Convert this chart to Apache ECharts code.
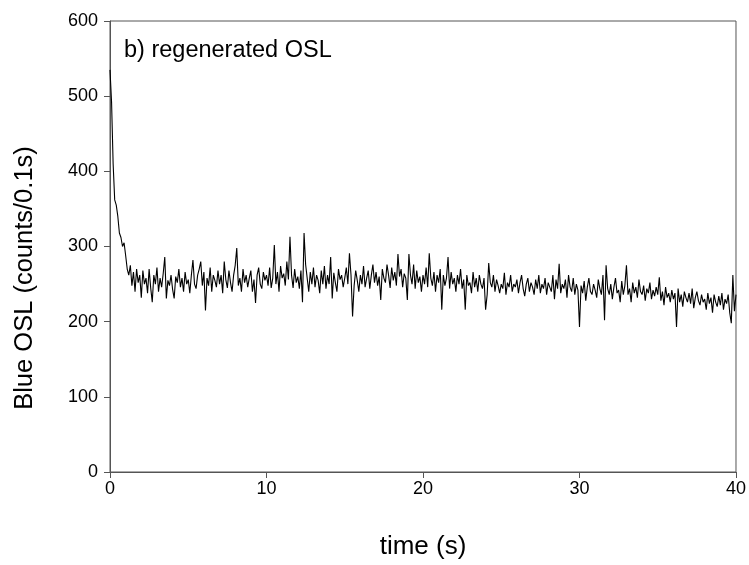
<!DOCTYPE html>
<html>
<head>
<meta charset="utf-8">
<script src="https://cdn.jsdelivr.net/npm/echarts@6/dist/echarts.min.js"></script>
<style>
  html, body { margin: 0; padding: 0; background: #fff; }
  #chart { width: 749px; height: 565px; }
</style>
</head>
<body>
<div id="chart"></div>
<script>
// OSL decay, one reading every 0.1 s
const step = 0.1;
const oslValues = [
  535, 492, 410, 362, 355, 340, 318, 312, 300, 305,
  288, 270, 262, 275, 248, 266, 240, 270, 252, 262,
  232, 268, 250, 258, 238, 270, 245, 226, 262, 250,
  272, 240, 258, 246, 264, 286, 231, 255, 248, 262,
  243, 231, 260, 252, 270, 246, 258, 240, 266, 250,
  256, 238, 262, 282, 250, 244, 262, 270, 280, 248,
  266, 215, 258, 248, 272, 240, 262, 255, 246, 268,
  250, 262, 238, 280, 256, 245, 268, 252, 240, 262,
  275, 298, 248, 258, 240, 270, 252, 262, 246, 258,
  268, 240, 256, 225, 262, 272, 250, 244, 266, 255,
  262, 248, 272, 245, 258, 302, 250, 266, 240, 274,
  258, 264, 248, 280, 256, 313, 262, 245, 270, 252,
  260, 244, 268, 226, 318, 276, 258, 240, 266, 250,
  272, 246, 262, 255, 238, 268, 250, 274, 244, 262,
  250, 286, 231, 265, 252, 240, 270, 256, 262, 246,
  258, 272, 250, 291, 262, 207, 248, 268, 255, 240,
  262, 250, 274, 246, 258, 268, 244, 262, 276, 252,
  266, 248, 260, 229, 270, 258, 252, 276, 262, 245,
  272, 255, 266, 248, 290, 260, 270, 246, 264, 258,
  229, 290, 262, 250, 276, 244, 268, 252, 260, 240,
  262, 250, 272, 246, 291, 258, 248, 266, 240, 262,
  252, 270, 216, 262, 248, 258, 286, 244, 266, 250,
  258, 240, 262, 250, 270, 244, 256, 216, 262, 248,
  252, 238, 266, 246, 258, 240, 262, 250, 244, 258,
  216, 236, 278, 252, 246, 262, 240, 256, 248, 238,
  250, 244, 265, 236, 252, 246, 262, 240, 250, 246,
  256, 238, 252, 262, 244, 234, 250, 258, 240, 252,
  246, 236, 256, 244, 262, 238, 250, 244, 258, 236,
  252, 246, 240, 262, 230, 256, 244, 277, 238, 250,
  244, 256, 232, 262, 246, 240, 258, 236, 250, 242,
  193, 248, 238, 254, 228, 246, 258, 240, 236, 250,
  242, 232, 256, 244, 236, 262, 202, 275, 244, 236,
  250, 230, 246, 258, 238, 242, 226, 254, 236, 248,
  275, 236, 244, 226, 252, 238, 246, 232, 256, 240,
  236, 248, 228, 244, 238, 252, 230, 242, 234, 246,
  236, 259, 228, 240, 222, 246, 232, 238, 226, 242,
  230, 238, 193, 244, 226, 236, 220, 240, 232, 226,
  238, 224, 244, 218, 232, 240, 228, 222, 236, 226,
  230, 216, 238, 224, 232, 212, 236, 226, 220, 234,
  222, 238, 216, 230, 224, 236, 212, 198, 262, 214,
  236
];
const xTicks = [0, 10, 20, 30, 40];
const yTicks = [0, 100, 200, 300, 400, 500, 600];

const seriesData = oslValues.map((v, i) => [+(i * step).toFixed(1), v]);

const myChart = echarts.init(document.getElementById('chart'));
const axisColor = '#555';
const option = {
  animation: false,
  title: {
    text: 'b) regenerated OSL',
    left: 119,
    top: 34,
    textStyle: {
      fontFamily: 'Liberation Sans',
      fontWeight: 'normal',
      fontSize: 23.5,
      color: '#000'
    }
  },
  // y axis title sits a bit below the plot centre in the original
  graphic: [
    {
      type: 'text',
      x: 25,
      y: 278,
      rotation: Math.PI / 2,
      style: {
        text: 'Blue OSL (counts/0.1s)',
        fontFamily: 'Liberation Sans',
        fontSize: 25.5,
        fill: '#000',
        align: 'center',
        verticalAlign: 'middle'
      }
    }
  ],
  grid: {
    left: 110,
    right: 12,
    top: 21,
    bottom: 93,
    show: true,
    borderColor: axisColor,
    borderWidth: 1
  },
  xAxis: {
    type: 'value',
    min: xTicks[0],
    max: xTicks[xTicks.length - 1],
    interval: 10,
    name: 'time (s)',
    nameLocation: 'middle',
    nameGap: 62,
    nameTextStyle: { fontFamily: 'Liberation Sans', fontSize: 26, color: '#000' },
    axisLine: { lineStyle: { color: axisColor } },
    axisTick: { inside: false, length: 6, lineStyle: { color: axisColor } },
    axisLabel: { fontFamily: 'Liberation Sans', fontSize: 18, color: '#000', margin: 8 },
    splitLine: { show: false }
  },
  yAxis: {
    type: 'value',
    min: yTicks[0],
    max: yTicks[yTicks.length - 1],
    interval: 100,
    axisLine: { show: true, lineStyle: { color: axisColor } },
    axisTick: { show: true, inside: false, length: 6, lineStyle: { color: axisColor } },
    axisLabel: { fontFamily: 'Liberation Sans', fontSize: 18, color: '#000', margin: 12 },
    splitLine: { show: false }
  },
  series: [
    {
      type: 'line',
      data: seriesData,
      showSymbol: false,
      symbol: 'none',
      lineStyle: { color: '#000', width: 1.1 }
    }
  ]
};
myChart.setOption(option);
</script>
</body>
</html>
